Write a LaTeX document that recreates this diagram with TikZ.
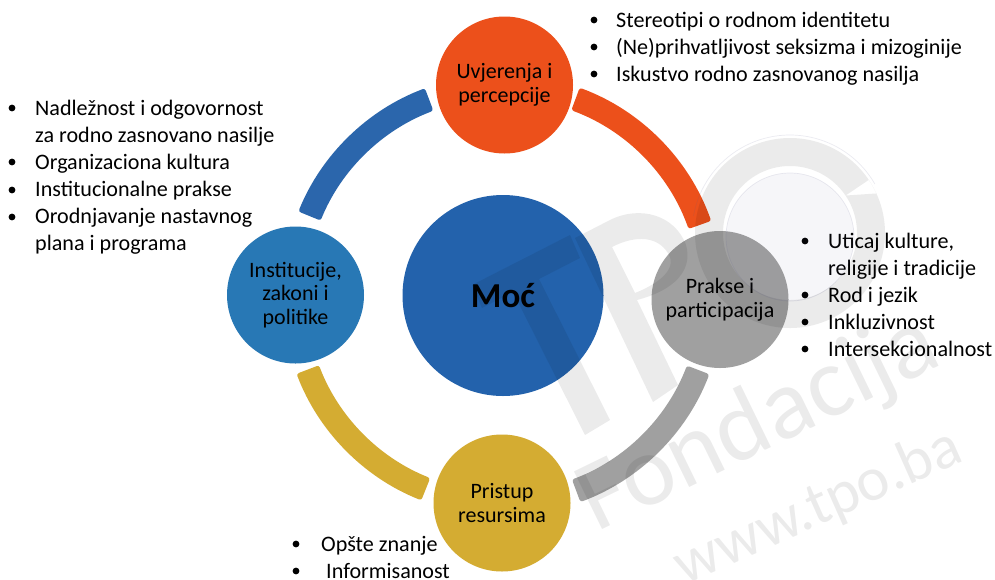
\documentclass[tikz,border=0pt]{standalone}
\usepackage{fontspec}
\setmainfont{Carlito}
\usetikzlibrary{calc}
\definecolor{cOrange}{HTML}{EC501B}
\definecolor{cBlueA}{HTML}{2B66AC}
\definecolor{cBlueC}{HTML}{2362AC}
\definecolor{cBlueL}{HTML}{2878B5}
\definecolor{cGold}{HTML}{D4AC32}
\definecolor{cGray}{HTML}{A0A0A0}
\definecolor{cDisc}{HTML}{5A5A8C}
\tikzset{
  x=1pt,y=-1pt,
  sat/.style={circle,minimum size=137pt,inner sep=0pt,align=center,font=\fontsize{22}{23.5}\selectfont},
  bl/.style={anchor=north west,inner sep=0pt,align=left,font=\fontsize{22.1}{27}\selectfont},
  dot/.style={fill=black},
  wmshape/.style={fill=black,fill opacity=.08,even odd rule},
  wmline/.style={draw=cDisc,draw opacity=.12,line width=.7pt},
  wmtext/.style={text=black,text opacity=.08,inner sep=0pt},
}
\newcommand{\ringarc}[3]{%
  \fill[#1,rounded corners=2.5pt] ($(ring)+(#2:197 and -197)$) arc[start angle=#2,end angle=#3,x radius=197,y radius=-197]
    -- ($(ring)+(#3:221 and -221)$) arc[start angle=#3,end angle=#2,x radius=221,y radius=-221] -- cycle;}
\begin{document}
\begin{tikzpicture}
\useasboundingbox (0,0) rectangle (995,579);
\fill[white] (0,0) rectangle (995,579);
\coordinate (ring) at (503,295);
\ringarc{cOrange}{69.7}{19.6}
\ringarc{cBlueA}{157.8}{110.7}
\ringarc{cGold}{248.3}{200.9}
\ringarc{cGray}{-21}{-69.5}
\node[circle,fill=cBlueC,minimum size=201pt,inner sep=0pt] (moc) at (503,295.5) {\fontsize{35}{40}\selectfont\bfseries Moć};
\node[sat,fill=cOrange] (uvj) at (504.5,85) {Uvjerenja i\\percepcije};
\node[sat,fill=cGray] (pra) at (720,299.5) {Prakse i\\participacija};
\node[sat,fill=cGold] (pri) at (502,503) {Pristup\\resursima};
\node[sat,fill=cBlueL] (ins) at (295.5,295) {Institucije,\\zakoni i\\politike};
% lists
\node[bl] (l1) at (616,12) {Stereotipi o rodnom identitetu\\(Ne)prihvatljivost seksizma i mizoginije\\Iskustvo rodno zasnovanog nasilja};
\foreach \y in {20,47,74} \fill[dot] (594,\y) circle[radius=3.4];
\node[bl] (l2) at (35,100) {Nadležnost i odgovornost\\za rodno zasnovano nasilje\\Organizaciona kultura\\Institucionalne prakse\\Orodnjavanje nastavnog\\plana i programa};
\foreach \y in {108,162,190,217} \fill[dot] (12,\y) circle[radius=3.4];
\node[bl] (l3) at (828,233) {Uticaj kulture,\\religije i tradicije\\Rod i jezik\\Inkluzivnost\\Intersekcionalnost};
\foreach \y in {241,295,322,349} \fill[dot] (805,\y) circle[radius=3.4];
\node[bl] (l4) at (321,536) {Opšte znanje};
\node[bl] (l5) at (326,563) {Informisanost};
\foreach \y in {544,571} \fill[dot] (296,\y) circle[radius=3.4];
% watermark: T
\fill[wmshape] (472,285) -- (570,235) -- (580,258) -- (539,279) -- (610,420) -- (585,435) -- (513,292) -- (482,308) -- cycle;
% watermark: P
\fill[wmshape] (653,402) -- (575,238) -- (610,220) .. controls (640,205) and (675,215) .. (686,245) .. controls (693,270) and (675,290) .. (637,300) -- (678,385) -- cycle
  (612,247) .. controls (635,235) and (660,235) .. (670,257) .. controls (675,272) and (655,285) .. (635,293) -- cycle;
% watermark: ring and disc
\coordinate (o) at (790,233);
\fill[wmshape] ($(o)+(34:95 and -95)$) arc[start angle=34,end angle=-335.4,x radius=95,y radius=-95]
  -- ($(o)+(34:67 and -67)$) arc[start angle=34,end angle=394,x radius=67,y radius=-67] -- cycle;
\fill[cDisc,fill opacity=.05] (790,237) circle[radius=64];
\path[wmline] (790,237) circle[radius=64];
\path[wmline] (o) ++(30:98 and -98) arc[start angle=30,end angle=170,x radius=98,y radius=-98];
% watermark: text
\node[wmtext,rotate=26,anchor=base west,font=\fontsize{100}{110}\selectfont] (wf) at (596,533) {Fondacija};
\node[wmtext,rotate=24,anchor=base east,font=\fontsize{62}{70}\selectfont] (ww) at (966,460) {www.tpo.ba};
\end{tikzpicture}
\end{document}
